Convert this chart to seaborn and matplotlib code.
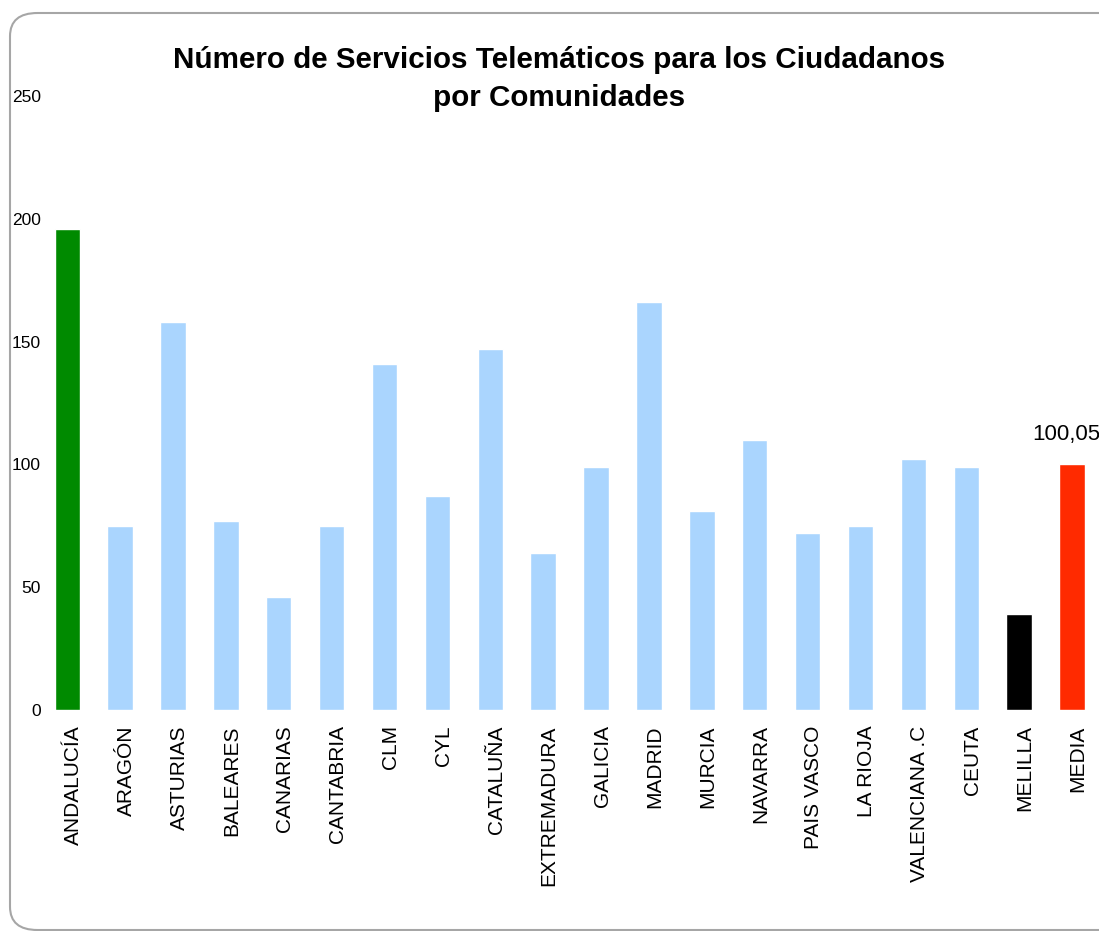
import matplotlib.pyplot as plt
import matplotlib.transforms as mtransforms
import seaborn as sns
import pandas as pd
from matplotlib.patches import FancyBboxPatch

regions = ["ANDALUCÍA", "ARAGÓN", "ASTURIAS", "BALEARES", "CANARIAS", "CANTABRIA",
           "CLM", "CYL", "CATALUÑA", "EXTREMADURA", "GALICIA", "MADRID", "MURCIA",
           "NAVARRA", "PAIS VASCO", "LA RIOJA", "VALENCIANA .C", "CEUTA", "MELILLA", "MEDIA"]
services = [196, 75, 158, 77, 46, 75, 141, 87, 147, 64, 99, 166, 81, 110, 72, 75, 102, 99, 39, 100.05]
bar_colors = ["#008A00"] + ["#AAD5FE"] * 17 + ["#000000", "#FF2A00"]

df = pd.DataFrame({"region": regions, "services": services})

sns.set_style("white")
plt.rcParams["font.family"] = ["Liberation Sans", "DejaVu Sans"]
plt.rcParams["text.color"] = "black"
plt.rcParams["xtick.color"] = "black"
plt.rcParams["ytick.color"] = "black"

fig = plt.figure(figsize=(10.99, 9.31), dpi=100)

# rounded frame around the chart
frame = FancyBboxPatch((10 / 1099, 1 - 930 / 931), 1.2, (930 - 13) / 931,
                       boxstyle="round,pad=0,rounding_size=0.025",
                       transform=fig.transFigure, facecolor="white",
                       edgecolor="#A6A6A6", linewidth=1.5, zorder=-5)
fig.patches.append(frame)

ax = fig.add_axes([45 / 1099, 1 - 710 / 931, (1099 - 45) / 1099, (710 - 96) / 931])
ax.patch.set_alpha(0)

sns.barplot(data=df, x="region", y="services", hue="region", palette=bar_colors,
            legend=False, width=0.48, saturation=1, ax=ax)

ax.set_xlim(-0.42, 19.51)
ax.set_ylim(0, 250)
ax.set_yticks([0, 50, 100, 150, 200, 250])
ax.set_xlabel("")
ax.set_ylabel("")
for s in ax.spines.values():
    s.set_visible(False)
ax.tick_params(axis="y", length=0, pad=3, labelsize=12.5)
ax.tick_params(axis="x", length=0, pad=11, labelsize=15, rotation=90)

# nudge the rotated category labels slightly right, like the original
shift = mtransforms.ScaledTranslation(6 / 100, 0, fig.dpi_scale_trans)
for lab in ax.get_xticklabels():
    lab.set_transform(lab.get_transform() + shift)

ax.annotate("100,05", xy=(19, services[-1]), xytext=(-29, 14), textcoords="offset points",
            ha="left", va="bottom", fontsize=16)

fig.text(0.509, 1 - 79 / 931, "Número de Servicios Telemáticos para los Ciudadanos\npor Comunidades",
         ha="center", va="center", fontsize=21.3, fontweight="bold", linespacing=1.45)

fig.savefig("out.png", dpi=100)
